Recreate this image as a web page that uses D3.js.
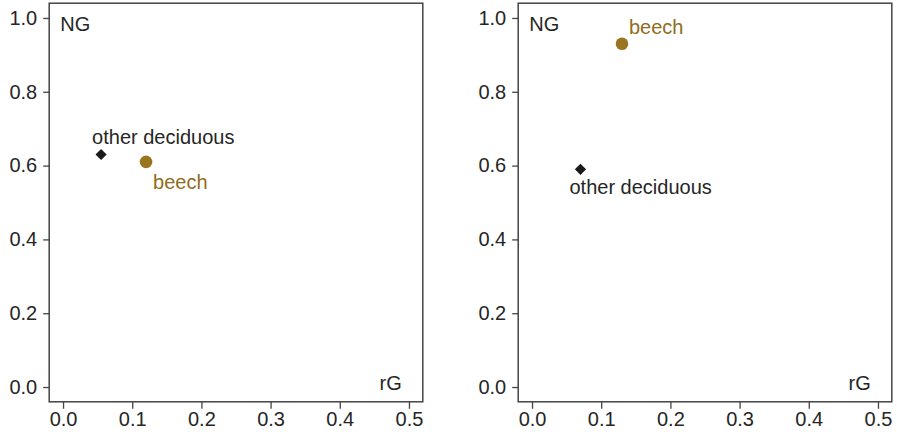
<!DOCTYPE html>
<html>
<head>
<meta charset="utf-8">
<script src="https://cdn.jsdelivr.net/npm/d3@7"></script>
<style>
  html, body { margin: 0; padding: 0; background: #fff; }
  svg { display: block; }
  text { font-family: "Liberation Sans", Arial, sans-serif; }
</style>
</head>
<body>
<svg id="chart" width="897" height="432"></svg>
<script>
// Species shown in both panels
const species = ["other deciduous", "beech"];
// Left panel: relative growth (rG) and NG per species
const rGLeft = [0.055, 0.12];
const NGLeft = [0.63, 0.61];
// Right panel
const rGRight = [0.07, 0.13];
const NGRight = [0.59, 0.93];
// Axis ticks
const xTicks = [0.0, 0.1, 0.2, 0.3, 0.4, 0.5];
const yTicks = [0.0, 0.2, 0.4, 0.6, 0.8, 1.0];

const colors = { "other deciduous": "#1a1a1a", "beech": "#9a7520" };
const labelColors = { "other deciduous": "#262626", "beech": "#8f6d22" };
const textColor = "#262626";

const svg = d3.select("#chart");
const fmt = d3.format(".1f");

// label offsets (px) relative to each point, per panel
const panels = [
  { x0: 0, rG: rGLeft, NG: NGLeft,
    labelOffset: { "other deciduous": [-9, -11], "beech": [7, 27] } },
  { x0: 469, rG: rGRight, NG: NGRight,
    labelOffset: { "other deciduous": [-11, 25], "beech": [7, -10] } }
];

const y = d3.scaleLinear().domain([-0.04, 1.04]).range([401.8, 3.2]);

panels.forEach(p => {
  const x = d3.scaleLinear().domain([-0.02, 0.52]).range([49.2 + p.x0, 422.8 + p.x0]);
  const g = svg.append("g");

  // plot box
  g.append("rect")
    .attr("x", x(-0.02)).attr("y", y(1.04))
    .attr("width", x(0.52) - x(-0.02)).attr("height", y(-0.04) - y(1.04))
    .attr("fill", "none").attr("stroke", "#444").attr("stroke-width", 1.5);

  // x axis
  const xa = g.append("g")
    .attr("transform", `translate(0,${y(-0.04)})`)
    .call(d3.axisBottom(x).tickValues(xTicks).tickFormat(fmt).tickSize(7).tickPadding(3));
  xa.select(".domain").remove();
  xa.selectAll("line").attr("stroke", "#444").attr("stroke-width", 1.3);
  xa.selectAll("text").attr("font-size", 20).attr("fill", textColor)
    .attr("font-family", "'Liberation Sans', Arial, sans-serif");

  // y axis
  const ya = g.append("g")
    .attr("transform", `translate(${x(-0.02)},0)`)
    .call(d3.axisLeft(y).tickValues(yTicks).tickFormat(fmt).tickSize(6).tickPadding(6));
  ya.select(".domain").remove();
  ya.selectAll("line").attr("stroke", "#444").attr("stroke-width", 1.3);
  ya.selectAll("text").attr("font-size", 20).attr("fill", textColor)
    .attr("font-family", "'Liberation Sans', Arial, sans-serif");

  // corner axis names
  g.append("text").attr("x", x(-0.02) + 11).attr("y", y(1.04) + 28)
    .attr("font-size", 20).attr("fill", textColor).text("NG");
  g.append("text").attr("x", x(0.52) - 21).attr("y", y(-0.04) - 12)
    .attr("text-anchor", "end").attr("font-size", 20).attr("fill", textColor).text("rG");

  // points
  species.forEach((s, i) => {
    const cx = x(p.rG[i]), cy = y(p.NG[i]);
    if (s === "beech") {
      g.append("circle").attr("cx", cx).attr("cy", cy).attr("r", 6.3)
        .attr("fill", colors[s]);
    } else {
      g.append("path")
        .attr("d", d3.symbol(d3.symbolDiamond2, 80)())
        .attr("transform", `translate(${cx},${cy})`)
        .attr("fill", colors[s]);
    }
    const [dx, dy] = p.labelOffset[s];
    g.append("text").attr("x", cx + dx).attr("y", cy + dy)
      .attr("font-size", 20).attr("fill", labelColors[s]).text(s);
  });
});
</script>
</body>
</html>
